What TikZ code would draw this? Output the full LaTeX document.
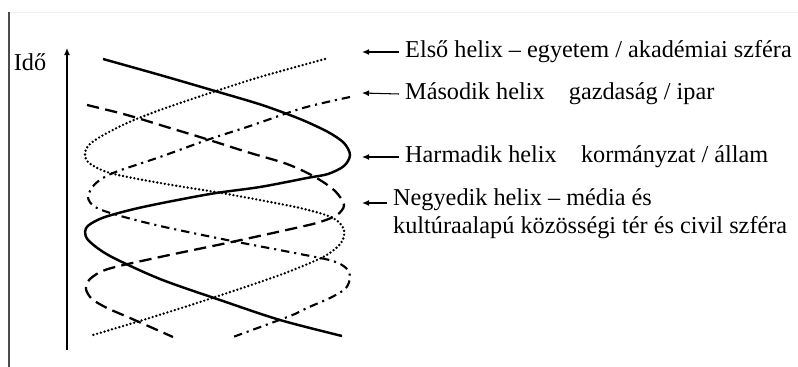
\documentclass[tikz,border=0pt]{standalone}
\usepackage{fontspec}
\setmainfont{Liberation Serif}
\usetikzlibrary{arrows.meta,positioning}

\begin{document}
\begin{tikzpicture}[x=2mm, y=-2mm, >={Latex[length=4pt,width=3.4pt]},
  every node/.style={font=\fontsize{13.8}{16}\selectfont},
  lbl/.style={anchor=west, align=left},
  pointer/.style={->, line width=0.6pt},
  academia/.style={line width=1.5pt, line cap=round, dash pattern=on 0pt off 2.2pt},
  industry/.style={line width=1.2pt, dash pattern=on 4.8pt off 2.8pt on 1.2pt off 2.8pt},
  government/.style={line width=1.4pt},
  civil/.style={line width=1.3pt, dash pattern=on 7pt off 3.6pt}]
\path[use as bounding box] (0,0) rectangle (79.8,36.7);
% frame
\draw[black!6] (0.9,1.2) -- (79.8,1.2);
\draw[black!70, line width=0.6pt] (0.9,1.2) -- (0.9,36.7);
% time axis
\node (ido) at (3.0,6.2) {Idő};
\draw[->, line width=1.1pt] (6.7,35.0) -- (6.7,4.8);
% the four helices
\draw[academia] plot[smooth] coordinates {(32.5,5.9) (26.0,7.7) (21.0,9.3) (16.0,11.0) (12.7,12.3)
  (10.0,13.7) (8.8,14.6) (8.5,15.4) (8.9,16.3) (11.0,17.3) (16.0,18.3) (22.7,19.4) (30.0,20.8)
  (33.3,21.8) (34.4,23.0) (34.1,24.3) (32.5,25.6) (29.3,27.0) (26.0,28.2) (19.7,30.3) (14.3,32.0) (9.3,33.5)};
\draw[industry] plot[smooth] coordinates {(35.0,9.7) (30.3,10.8) (25.0,12.6) (20.7,14.0) (16.0,15.7)
  (11.3,17.3) (9.5,18.4) (8.8,19.7) (9.5,20.7) (11.7,21.5) (16.0,22.6) (22.7,24.0) (30.0,25.4)
  (33.3,26.1) (34.6,26.8) (35.0,27.7) (34.6,28.8) (33.2,29.7) (30.7,30.8) (29.0,31.6) (23.3,33.7)};
\draw[government] plot[smooth] coordinates {(10.3,5.9) (16.0,7.5) (21.5,9.1) (26.2,10.5) (30.0,11.9)
  (32.8,13.2) (34.4,14.3) (35.0,15.5) (34.4,16.6) (32.8,17.4) (30.7,17.8) (26.0,18.7) (21.0,19.4)
  (14.3,20.7) (10.5,21.7) (8.9,22.5) (8.5,23.2) (8.9,24.1) (11.0,25.6) (16.0,27.9) (22.0,30.0)
  (28.0,32.0) (34.2,33.6)};
\draw[civil] plot[smooth] coordinates {(8.7,10.5) (12.7,11.5) (17.0,12.8) (20.3,13.8) (24.7,15.2)
  (28.7,16.4) (31.5,17.7) (33.5,19.1) (34.4,20.5) (33.7,21.5) (32.0,22.2) (30.0,22.7) (22.7,24.3)
  (16.0,25.7) (10.8,26.9) (9.0,27.9) (8.6,28.9) (9.2,29.9) (10.7,30.8) (13.0,31.8) (17.3,33.7)};
% labels
\node[lbl] (l1) at (39.9,5.2) {Első helix – egyetem / akadémiai szféra};
\node[lbl] (l2) at (39.9,9.4) {Második helix \hspace{0.5em} gazdaság / ipar};
\node[lbl] (l3) at (39.9,15.7) {Harmadik helix \hspace{0.5em} kormányzat / állam};
\node[lbl] (l4) at (38.7,21.4) {Negyedik helix – média és\\kultúraalapú közösségi tér és civil szféra};
\coordinate (p1) at (36.2,5.2);
\coordinate (p2) at (36.2,9.3);
\coordinate (p3) at (36.2,15.7);
\coordinate (p4) at (36.2,20.3);
\draw[pointer, line width=1.1pt] (l1.west) -- (p1);
\draw[pointer] (l2.west) -- (p2);
\draw[pointer] (l3.west) -- (p3);
\draw[pointer, line width=1.1pt] (p4 -| l4.west) -- (p4);
\end{tikzpicture}
\end{document}
